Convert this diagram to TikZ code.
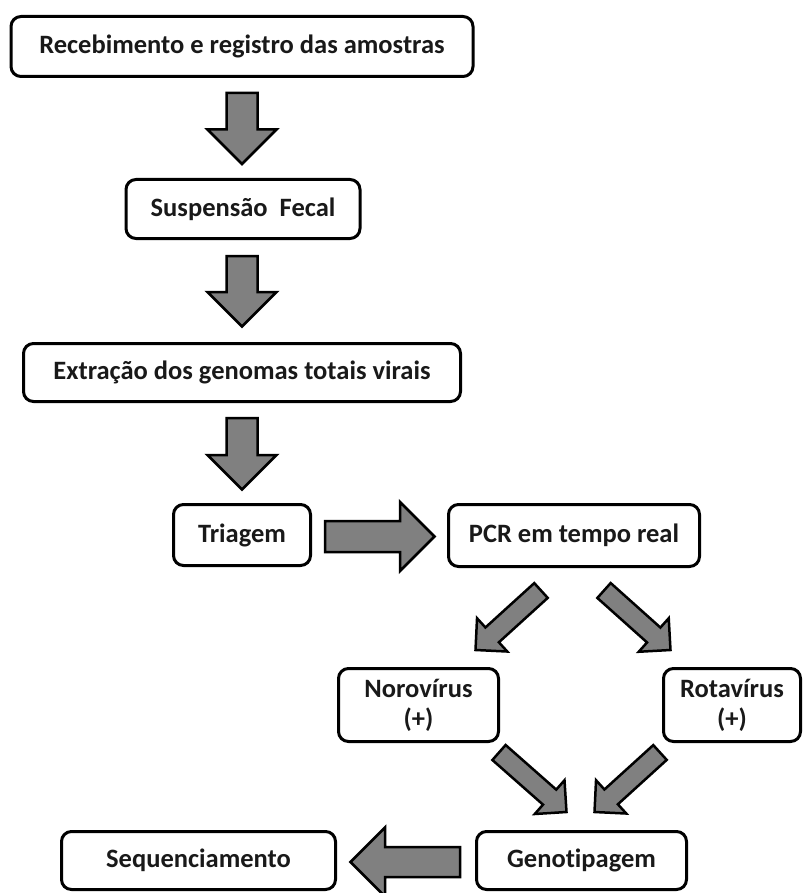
\documentclass[tikz,border=0pt]{standalone}
\usepackage{fontspec}
\setmainfont[Ligatures=NoCommon]{Carlito}
\usetikzlibrary{calc}

% fat block arrow: start, end, shaft half width, head half width
\newcommand{\fatarrow}[4]{%
  \coordinate (fa-s) at (#1);
  \coordinate (fa-e) at (#2);
  \coordinate (fa-h) at ($(fa-e)!#4!(fa-s)$);
  \draw[fat] ($(fa-s)!#3!90:(fa-e)$) -- ($(fa-h)!#3!90:(fa-e)$)
    -- ($(fa-h)!#4!90:(fa-e)$) -- (fa-e) -- ($(fa-h)!#4!-90:(fa-e)$)
    -- ($(fa-h)!#3!-90:(fa-e)$) -- ($(fa-s)!#3!-90:(fa-e)$) -- cycle;}

\begin{document}
\begin{tikzpicture}[x=1pt, y=-1pt,
  box/.style={draw, line width=3pt, rounded corners=10pt, inner sep=0pt,
    align=center, text=black!90, font=\fontsize{26.5}{30}\selectfont\bfseries},
  fat/.style={draw, fill=black!50, line width=2.5pt, line join=miter}]

  \useasboundingbox (0,0) rectangle (804,893);

  % Boxes of the flow
  \node[box, minimum width=462pt, minimum height=60pt] (rec) at (242,46.5) {Recebimento e registro das amostras};
  \node[box, minimum width=234pt, minimum height=59pt] (susp) at (243,209) {Suspensão\ \ Fecal};
  \node[box, minimum width=437pt, minimum height=58pt] (ext) at (242,372.5) {Extração dos genomas totais virais};
  \node[box, minimum width=137pt, minimum height=61pt] (tri) at (242,535) {Triagem};
  \node[box, minimum width=251pt, minimum height=62pt] (pcr) at (574,535.5) {PCR em tempo real};
  \node[box, minimum width=160pt, minimum height=73pt] (noro) at (418.5,705) {Norovírus\\(+)};
  \node[box, minimum width=137pt, minimum height=73pt] (rota) at (732,705) {Rotavírus\\(+)};
  \node[box, minimum width=210pt, minimum height=58pt] (geno) at (581.5,860.5) {Genotipagem};
  \node[box, minimum width=274pt, minimum height=58pt] (seq) at (198.5,860.5) {Sequenciamento};

  % Straight block arrows
  \fatarrow{$(rec.south)+(0,15)$}{$(rec.south |- susp.north)+(0,-14)$}{15.5pt}{34.5pt}
  \fatarrow{$(ext.north |- susp.south)+(0,16)$}{$(ext.north)+(0,-15.5)$}{15.5pt}{34.5pt}
  \fatarrow{$(ext.south)+(0,15)$}{$(tri.north)+(0,-13.5)$}{15.5pt}{34.5pt}
  \fatarrow{$(tri.east)+(13,1.5)$}{$(pcr.west)+(-12.5,1)$}{15.5pt}{34.5pt}
  \fatarrow{$(geno.west)+(-15,1.5)$}{$(seq.east)+(13.5,1.5)$}{15pt}{34.5pt}

  % Diagonal block arrows
  \fatarrow{$(pcr.south)+(-33,22.5)$}{$(noro.north)+(57,-17)$}{10pt}{22.5pt}
  \fatarrow{$(pcr.south)+(30,22.5)$}{$(rota.north)+(-61.5,-17)$}{10pt}{22.5pt}
  \fatarrow{$(noro.south)+(80.5,9.5)$}{$(geno.north)+(-15,-18)$}{10pt}{22.5pt}
  \fatarrow{$(rota.south)+(-72,9.5)$}{$(geno.north)+(13,-18)$}{10pt}{22.5pt}

\end{tikzpicture}
\end{document}
